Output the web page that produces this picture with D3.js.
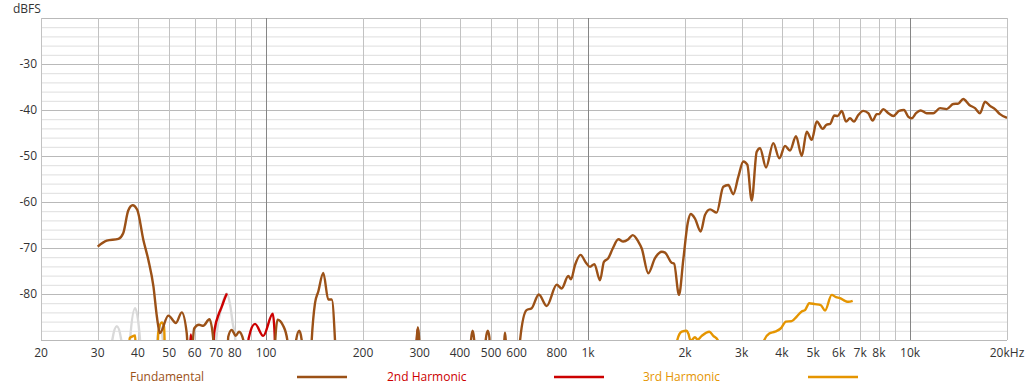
<!DOCTYPE html>
<html>
<head>
<meta charset="utf-8">
<script src="https://cdn.jsdelivr.net/npm/d3@7"></script>
<style>
  body { margin: 0; background: #fff; }
  text { font-family: "Segoe UI", "Open Sans", "Noto Sans", sans-serif; font-size: 12px; }
</style>
</head>
<body>
<div id="chart"></div>
<script>
// [frequency Hz, dBFS]; -100 means the curve falls under the floor, null breaks the line
const fundamental = [
  [30, -69.7], [32, -68.4], [34.8, -68.0], [36, -66.8], [37.3, -61.9], [38.5, -60.7], [39.8, -61.7],
  [41.6, -68.3], [43.1, -72.6], [44.7, -78.4], [45.8, -84.9], [46.8, -88.5], [49.7, -84.7], [52.5, -86.3],
  [54.7, -84.0], [56.7, -88.5], [57.9, -100], [59.8, -87.5], [61.9, -86.7], [63.8, -86.9], [66.7, -85.5],
  [68.6, -90], [70, -100], [75.5, -100], [76.3, -89.3], [78.2, -87.8], [80.5, -89.1], [82.4, -88.2],
  [85, -90], [86.5, -100], [105.5, -100], [106.8, -90], [108.6, -85.6], [113, -86.9], [116.4, -90],
  [118, -100], [122.5, -100], [124, -90], [126.8, -88.0], [129, -90], [130.5, -100], [136.5, -100],
  [138.6, -90], [141.9, -82.0], [145.2, -79.5], [150.6, -75.4], [156, -81.2], [159.9, -81.2],
  [163.7, -90], [166, -100], [290, -100], [293.5, -90], [296, -87.2], [299, -90], [302, -100],
  [430, -100], [433, -90], [438, -88.0], [443, -90], [446, -100], [478, -100], [481, -90],
  [488, -88.0], [494, -89.5], [497, -100], [547, -100], [549.5, -90], [552, -88.4], [555, -90],
  [558, -100], [610, -100], [615, -90], [644, -83.5], [668, -83.1], [703, -80.1], [744, -82.6],
  [799, -78.0], [828, -78.8], [868, -76.1], [885, -76.8], [911, -73.7], [948, -71.5], [985, -73.2],
  [1014, -74.1], [1046, -73.5], [1089, -77.0], [1120, -73.0], [1156, -72.2], [1193, -70.1],
  [1242, -68.1], [1286, -68.6], [1334, -68.1], [1376, -67.2], [1432, -68.6], [1468, -70.1],
  [1538, -75.5], [1614, -72.2], [1694, -70.8], [1734, -71.0], [1818, -73.2], [1850, -73.4],
  [1916, -80.2], [1976, -72.5], [2040, -64.5], [2085, -62.6], [2148, -63.6], [2238, -66.4],
  [2308, -62.8], [2392, -61.6], [2508, -62.3], [2630, -56.7], [2726, -56.3], [2825, -58.3],
  [2929, -54.5], [3035, -51.2], [3123, -51.9], [3222, -59.7], [3340, -49.1], [3420, -48.3],
  [3570, -52.5], [3760, -47.2], [3926, -50.5], [4090, -47.8], [4237, -48.8], [4424, -45.7],
  [4608, -50.0], [4776, -44.7], [4950, -46.5], [5130, -42.5], [5355, -44.1], [5500, -43.2],
  [5650, -43.0], [5818, -41.2], [5960, -41.3], [6135, -40.2], [6325, -42.5], [6508, -41.8],
  [6696, -42.5], [6904, -41.1], [7158, -40.2], [7416, -40.7], [7656, -42.3], [7877, -40.9],
  [8000, -40.9], [8258, -39.8], [8560, -40.7], [8872, -41.3], [9238, -40.2], [9572, -40.0],
  [9878, -41.5], [10116, -41.8], [10436, -40.7], [10790, -40.1], [11264, -40.7], [11806, -40.7],
  [12388, -39.6], [12996, -39.8], [13617, -38.7], [14122, -38.6], [14626, -37.6], [15277, -38.9],
  [15911, -39.6], [16485, -40.7], [17091, -38.2], [17707, -39.1], [18356, -39.8], [19017, -40.9],
  [20000, -41.7]
];

const secondHarmonic = [
  [57.6, -100], [58.4, -88.8], [59.2, -100], [67.8, -100], [69, -88.5], [71.1, -84.6],
  [72.8, -82.8], [74.8, -80.6], [75.6, -79.9], [76, null], [87, -100], [88.3, -89.6],
  [92.4, -86.5], [98, -89.1], [104.9, -84.3], [106.3, -88.5], [107.3, -100], [292, -100], [294, -90],
  [296, -87.5], [298, -90], [300, -100]
];

const thirdHarmonic = [
  [37.3, -100], [37.7, -89.6], [38.5, -89.2], [39.2, -89.0], [39.6, -100], [45.6, -100],
  [46.3, -88.2], [47.4, -86.2], [48.2, -87.1], [48.9, -100], [1880, -100], [1893, -90],
  [1954, -88.2], [2024, -88.0], [2048, -88.6], [2084, -90.2], [2148, -89.4], [2190, -89.9],
  [2254, -89.1], [2380, -88.2], [2449, -89.1], [2528, -90], [2560, -100], [3480, -100],
  [3526, -90], [3654, -88.6], [3805, -88.2], [3963, -87.5], [4118, -86.0], [4290, -85.9],
  [4446, -84.9], [4608, -83.8], [4718, -83.5], [4864, -82.0], [5067, -82.2], [5278, -82.4],
  [5443, -83.6], [5710, -80.2], [5888, -80.7], [6058, -80.9], [6280, -81.5], [6431, -81.7],
  [6634, -81.5]
];

// higher harmonics, drawn in light grey and not in the legend
const higherHarmonics = [
  [32.8, -100], [33.3, -90], [34.4, -87.0], [35.5, -90], [36, -100], [37.3, -100], [37.8, -90],
  [39.2, -83.1], [40.6, -90], [41.2, -100], [45.5, -100], [45.9, -90], [46.8, -86.9], [47.8, -90],
  [48.5, -100], [69, -100], [70, -90], [72.8, -82.8], [75.6, -79.9], [77.5, -82.8], [78.8, -86.4],
  [80.3, -90], [81, -100]
];

const seriesNames = ['Fundamental', '2nd Harmonic', '3rd Harmonic'];
const seriesColours = ['#9b5117', '#cc0000', '#e59500'];

const xTickValues = [20, 30, 40, 50, 60, 70, 80, 100, 200, 300, 400, 500, 600, 800, 1000,
  2000, 3000, 4000, 5000, 6000, 7000, 8000, 10000, 20000];
const xTickLabels = ['20', '30', '40', '50', '60', '70', '80', '100', '200', '300', '400', '500', '600', '800', '1k',
  '2k', '3k', '4k', '5k', '6k', '7k', '8k', '10k', '20kHz'];
const yTickValues = [-30, -40, -50, -60, -70, -80];

const width = 1027, height = 392;
const margin = { top: 18, right: 20, bottom: 52, left: 41 };

const svg = d3.select('#chart').append('svg')
    .attr('width', width)
    .attr('height', height);

const x = d3.scaleLog()
    .domain([20, 20000])
    .range([margin.left, width - margin.right]);

const y = d3.scaleLinear()
    .domain([-90, -20])
    .range([height - margin.bottom, margin.top]);

// grid frequencies 20..90, 100..900, 1k..9k, 10k, 20k
let gridFreqs = [];
[10, 100, 1000].forEach(dec => {
  for (let i = 1; i < 10; i++) gridFreqs.push(i * dec);
});
gridFreqs.push(10000, 20000);
gridFreqs = gridFreqs.filter(f => f >= 20);
const decades = [100, 1000, 10000];

// horizontal grid, every 2 dB
const grid = svg.append('g');
d3.range(-90, -19, 2).forEach(v => {
  grid.append('line')
      .attr('x1', x(20)).attr('x2', x(20000))
      .attr('y1', y(v) + 0.5).attr('y2', y(v) + 0.5)
      .attr('stroke', v % 10 === 0 ? '#b9b9b9' : '#dedede')
      .attr('stroke-width', 1);
});

// vertical grid
gridFreqs.forEach(f => {
  grid.append('line')
      .attr('x1', Math.round(x(f)) + 0.5).attr('x2', Math.round(x(f)) + 0.5)
      .attr('y1', y(-20)).attr('y2', y(-90))
      .attr('stroke', decades.includes(f) ? '#858585' : '#c2c2c2')
      .attr('stroke-width', 1);
});

// y labels
svg.append('g').selectAll('text')
    .data(yTickValues)
    .join('text')
    .attr('x', 37)
    .attr('y', d => y(d) + 4)
    .attr('text-anchor', 'end')
    .attr('fill', '#333')
    .text(d => d);

svg.append('text')
    .attr('x', 13)
    .attr('y', 13)
    .attr('fill', '#333')
    .text('dBFS');

// x labels
svg.append('g').selectAll('text')
    .data(xTickValues)
    .join('text')
    .attr('x', d => x(d))
    .attr('y', 357)
    .attr('text-anchor', 'middle')
    .attr('fill', '#333')
    .text((d, i) => xTickLabels[i]);

// curves, clipped to the plot area
svg.append('clipPath').attr('id', 'plot-clip')
  .append('rect')
    .attr('x', x(20)).attr('y', y(-20))
    .attr('width', x(20000) - x(20))
    .attr('height', y(-90) - y(-20));

const line = d3.line()
    .defined(d => d[1] !== null)
    .x(d => x(d[0]))
    .y(d => y(d[1]))
    .curve(d3.curveMonotoneX);

const curves = svg.append('g').attr('clip-path', 'url(#plot-clip)');
const drawOrder = [
  { data: higherHarmonics, colour: '#d9d9d9' },
  { data: thirdHarmonic, colour: seriesColours[2] },
  { data: secondHarmonic, colour: seriesColours[1] },
  { data: fundamental, colour: seriesColours[0] }
];
drawOrder.forEach(s => {
  curves.append('path')
      .attr('d', line(s.data))
      .attr('fill', 'none')
      .attr('stroke', s.colour)
      .attr('stroke-width', 2.4)
      .attr('stroke-linejoin', 'round');
});

// legend
const legendText = [130, 387, 643];
const legendLine = [297, 554, 808];
seriesNames.forEach((name, i) => {
  svg.append('text')
      .attr('x', legendText[i])
      .attr('y', 381)
      .attr('fill', seriesColours[i])
      .text(name);
  svg.append('line')
      .attr('x1', legendLine[i]).attr('x2', legendLine[i] + 50)
      .attr('y1', 377).attr('y2', 377)
      .attr('stroke', seriesColours[i])
      .attr('stroke-width', 2.5);
});
</script>
</body>
</html>
